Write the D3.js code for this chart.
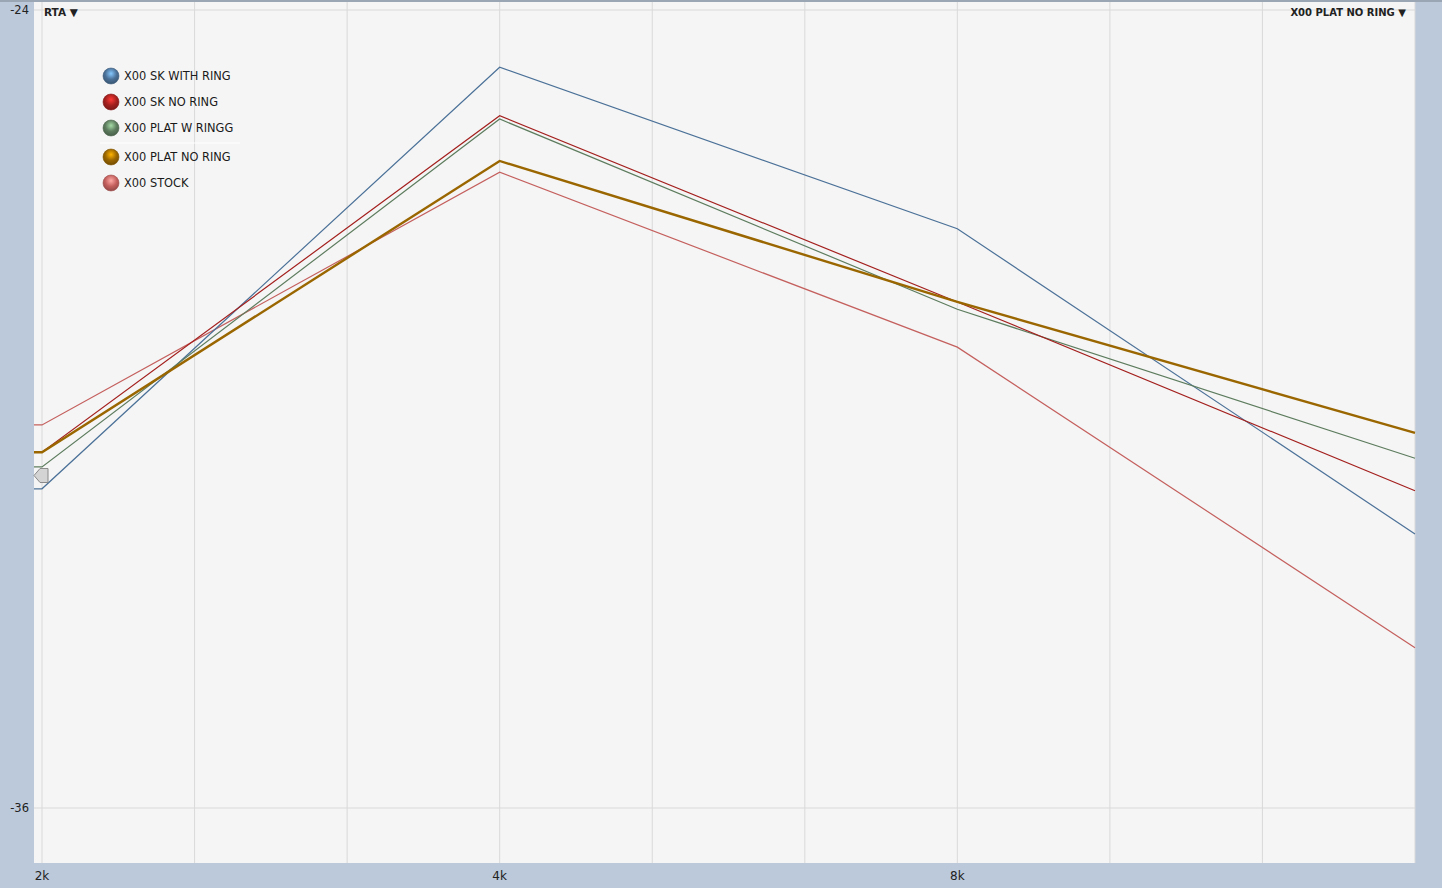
<!DOCTYPE html>
<html>
<head>
<meta charset="utf-8">
<script src="https://cdn.jsdelivr.net/npm/d3@7"></script>
<style>
  body { margin: 0; background: #bcc9da; }
  text { font-family: "Lucida Grande", "DejaVu Sans", sans-serif; }
</style>
</head>
<body>
<div class="svgContainer"></div>
<script>
// octave band values (dB)
let freqs = [2000, 4000, 8000, 16000];
let skWithRing = [-31.2, -24.86, -27.29, -31.88];
let skNoRing = [-30.65, -25.59, -28.39, -31.23];
let platWRingg = [-30.87, -25.64, -28.5, -30.74];
let platNoRing = [-30.65, -26.27, -28.39, -30.36];
let stock = [-30.24, -26.44, -29.07, -33.59];

let seriesNames = ["X00 SK WITH RING", "X00 SK NO RING", "X00 PLAT W RINGG", "X00 PLAT NO RING", "X00 STOCK"];
let gridFreqs = [2000, 2520, 3175, 4000, 5040, 6350, 8000, 10079, 12699, 16000];
let xTickFreqs = [2000, 4000, 8000];
let xTickLabels = ["2k", "4k", "8k"];
let yTicks = [-24, -36];

let w = 1442;
let h = 888;
let plotLeft = 34;
let plotRight = 1415;
let plotTop = 2;
let plotBottom = 863;

let xScale = d3.scaleLog().base(2)
    .domain([2000, 16000])
    .range([42, 1415]);

let yScale = d3.scaleLinear()
    .domain([-36, -24])
    .range([808, 10]);

const svg = d3.select(".svgContainer")
    .append("svg")
    .attr("width", w)
    .attr("height", h)
    .style("display", "block");

svg.append("rect")
    .attr("width", w).attr("height", h)
    .attr("fill", "#bcc9da");

svg.append("rect")
    .attr("x", 0).attr("y", 0).attr("width", w).attr("height", 2)
    .attr("fill", "#9aa6b4");

svg.append("rect")
    .attr("x", plotLeft).attr("y", plotTop)
    .attr("width", plotRight - plotLeft).attr("height", plotBottom - plotTop)
    .attr("fill", "#f5f5f5");

// vertical grid
svg.selectAll(".vgrid")
    .data(gridFreqs)
    .enter()
    .append("line")
    .attr("x1", d => xScale(d)).attr("x2", d => xScale(d))
    .attr("y1", plotTop).attr("y2", plotBottom)
    .attr("stroke", "#d9d9d9")
    .attr("stroke-width", 1);

// horizontal grid
svg.selectAll(".hgrid")
    .data(yTicks)
    .enter()
    .append("line")
    .attr("x1", plotLeft).attr("x2", plotRight)
    .attr("y1", d => yScale(d)).attr("y2", d => yScale(d))
    .attr("stroke", "#d9d9d9")
    .attr("stroke-width", 1);

svg.selectAll(".ylab")
    .data(yTicks)
    .enter()
    .append("text")
    .attr("x", 29)
    .attr("y", d => yScale(d) + 4)
    .attr("text-anchor", "end")
    .attr("font-size", 11.5)
    .attr("fill", "#222")
    .text(d => "-" + Math.abs(d));

svg.selectAll(".xlab")
    .data(xTickFreqs)
    .enter()
    .append("text")
    .attr("x", d => xScale(d))
    .attr("y", 880)
    .attr("text-anchor", "middle")
    .attr("font-size", 12)
    .attr("fill", "#222")
    .text((d, i) => xTickLabels[i]);

let series = [
    { name: seriesNames[0], values: skWithRing, color: "#4b7198", width: 1.2 },
    { name: seriesNames[1], values: skNoRing, color: "#a3201e", width: 1.2 },
    { name: seriesNames[2], values: platWRingg, color: "#5d7c5e", width: 1.2 },
    { name: seriesNames[3], values: platNoRing, color: "#9a6600", width: 2.4 },
    { name: seriesNames[4], values: stock, color: "#c4605e", width: 1.2 }
];

let leftFreq = xScale.invert(plotLeft);
let line = d3.line()
    .x(d => xScale(d[0]))
    .y(d => yScale(d[1]));

// draw order: stock, blue, green, red, gold on top
[4, 0, 2, 1, 3].forEach(i => {
    let s = series[i];
    let pts = [[leftFreq, s.values[0]]].concat(freqs.map((f, j) => [f, s.values[j]]));
    svg.append("path")
        .datum(pts)
        .attr("d", line)
        .attr("fill", "none")
        .attr("stroke", s.color)
        .attr("stroke-width", s.width)
        .attr("stroke-linejoin", "miter");
});

// reference marker on the left
let my = yScale(-31.0);
svg.append("path")
    .attr("d", `M${plotLeft},${my} L${plotLeft + 6},${my - 7} L${plotLeft + 14},${my - 7} L${plotLeft + 14},${my + 7} L${plotLeft + 6},${my + 7} Z`)
    .attr("fill", "#d4d4d4")
    .attr("stroke", "#8a8a8a")
    .attr("stroke-width", 1);

// legend
const defs = svg.append("defs");
series.forEach((s, i) => {
    let g = defs.append("radialGradient")
        .attr("id", "ball" + i)
        .attr("cx", "50%").attr("cy", "35%").attr("r", "65%");
    g.append("stop").attr("offset", "0%").attr("stop-color", d3.color(s.color).brighter(1.6));
    g.append("stop").attr("offset", "55%").attr("stop-color", s.color);
    g.append("stop").attr("offset", "100%").attr("stop-color", d3.color(s.color).darker(0.8));
});

let legendY = [76, 102, 128, 157, 183];

svg.append("line")
    .attr("x1", 100).attr("x2", 240)
    .attr("y1", 143).attr("y2", 143)
    .attr("stroke", "#ffffff")
    .attr("stroke-width", 1);

let legend = svg.selectAll(".leg")
    .data(series)
    .enter()
    .append("g")
    .attr("transform", (d, i) => `translate(111, ${legendY[i]})`);

legend.append("circle")
    .attr("r", 8)
    .attr("fill", (d, i) => `url(#ball${i})`)
    .attr("stroke", d => d3.color(d.color).darker(0.6))
    .attr("stroke-width", 0.6);

legend.append("text")
    .attr("x", 13)
    .attr("y", 4)
    .attr("font-size", 11.4)
    .attr("fill", "#1a1a1a")
    .text(d => d.name);

// top labels
svg.append("text")
    .attr("x", 44).attr("y", 16)
    .attr("font-size", 10.5)
    .attr("font-weight", "bold")
    .attr("fill", "#222")
    .text("RTA \u25BC");

svg.append("text")
    .attr("x", 1406).attr("y", 16)
    .attr("text-anchor", "end")
    .attr("font-size", 10)
    .attr("font-weight", "bold")
    .attr("fill", "#222")
    .text("X00 PLAT NO RING \u25BC");
</script>
</body>
</html>
